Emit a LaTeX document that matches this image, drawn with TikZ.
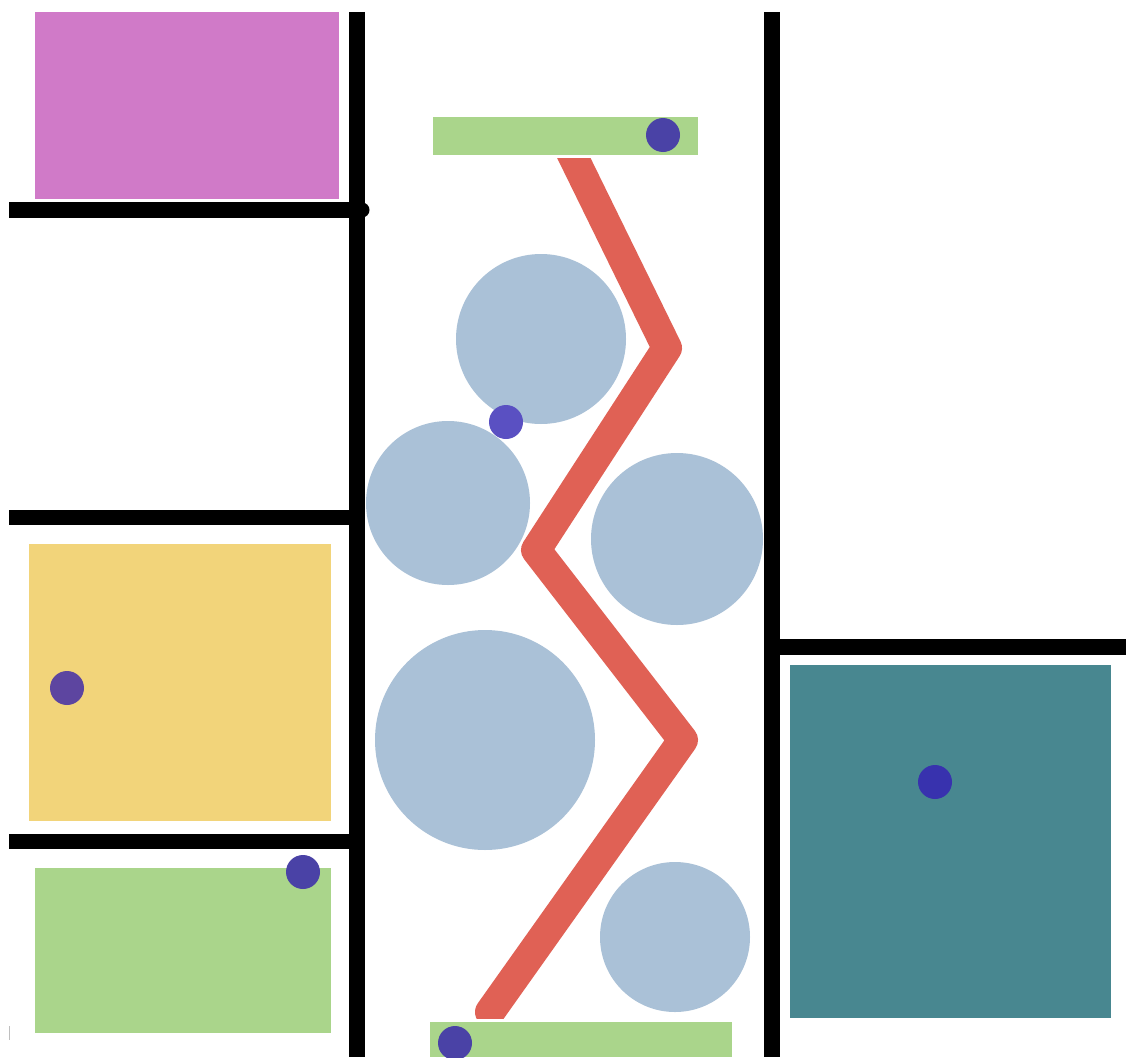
\documentclass[tikz,border=0pt]{standalone}
\begin{document}
\begin{tikzpicture}[x=1pt,y=-1pt]
\definecolor{pinkc}{HTML}{D07AC8}
\definecolor{yellowc}{HTML}{F2D47A}
\definecolor{greenc}{HTML}{AAD58B}
\definecolor{tealc}{HTML}{488790}
\definecolor{bluec}{HTML}{AAC1D7}
\definecolor{redc}{HTML}{E06155}
\definecolor{dotc}{HTML}{4A42A6}
\definecolor{dotyc}{HTML}{5D45A0}
\definecolor{dottc}{HTML}{3832AE}
\definecolor{dotbc}{HTML}{5A50C2}
\tikzset{
  wall/.style={line width=16pt, black},
  ball/.style={fill=bluec},
  dot/.style={fill=dotc},
}
\useasboundingbox (0,0) rectangle (1126,1057);
\fill[white] (0,0) rectangle (1126,1057);
% coloured blocks
\fill[pinkc] (35,12) rectangle (339,199);
\fill[yellowc] (29,544) rectangle (331,821);
\fill[greenc] (35,868) rectangle (331,1033);
\fill[tealc] (790,665) rectangle (1111,1018);
\fill[greenc] (433,117) rectangle (698,155);
% walls
\draw[wall] (357,12) -- (357,1057);
\draw[wall] (772,12) -- (772,1057);
\draw[wall] (9,210) -- (362,210);
\fill[black] (362,210) circle (7.5);
\draw[wall,line width=15pt] (9,517.5) -- (357,517.5);
\draw[wall,line width=15pt] (9,841) -- (357,841);
\draw[wall] (772,646.5) -- (1126,646.5);
\draw[gray!50,line width=1pt] (9,1026) -- (9,1040);
% balls
\fill[ball] (541,339) circle (85);
\fill[ball] (448,503) circle (82);
\fill[ball] (677,539) circle (86);
\fill[ball] (485,740) circle (110);
\fill[ball] (675,937) circle (75);
% zigzag
\begin{scope}
  \clip (400,158) rectangle (760,1018);
  \draw[redc,line width=30pt,line join=round,line cap=round]
    (565,140) -- (667,348) -- (536,550) -- (683,740) -- (490,1012);
\end{scope}
% bottom bar
\fill[greenc] (430,1022) rectangle (732,1057);
% dots
\fill[dot] (663,135) circle (17);
\fill[dotbc] (506,422) circle (17);
\fill[dotyc] (67,688) circle (17);
\fill[dot] (303,872) circle (17);
\fill[dottc] (935,782) circle (17);
\fill[dot] (455,1043) circle (17);
\end{tikzpicture}
\end{document}
